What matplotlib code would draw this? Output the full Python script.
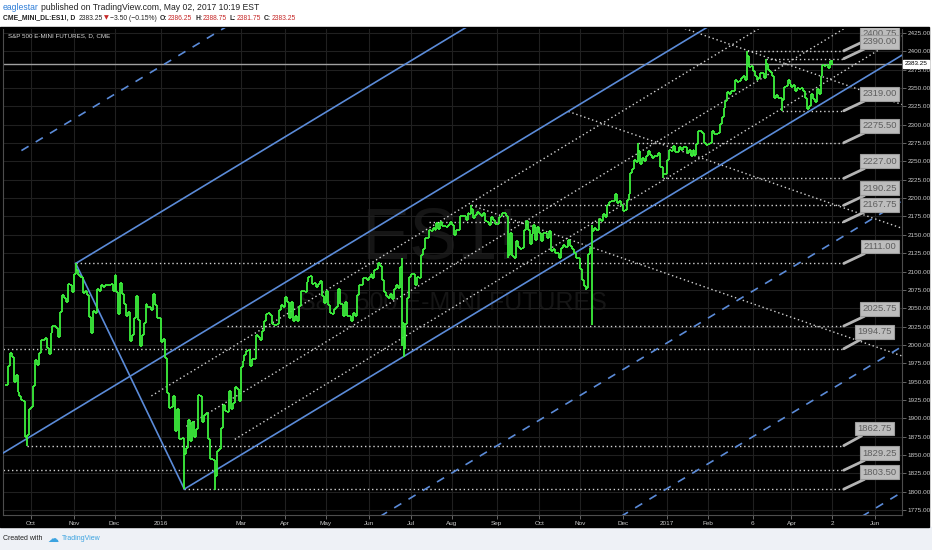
import numpy as np
import matplotlib
matplotlib.use("Agg")
import matplotlib.pyplot as plt
from matplotlib.collections import LineCollection
from matplotlib.patches import Rectangle
from matplotlib.transforms import blended_transform_factory

plt.rcParams["font.family"] = ["Liberation Sans", "DejaVu Sans"]

START = "2015-09-14"   # first bar, one value per weekday

# ES1! daily closes, one row per week (Mon..Fri)
closes = [
    1946, 1971, 1989, 1983, 1950,
    1959, 1936, 1931, 1925, 1924,
    1874, 1877, 1913, 1916, 1944,
    1980, 1972, 1989, 2007, 2007,
    2010, 1996, 1987, 2016, 2026,
    2026, 2023, 2011, 2045, 2068,
    2064, 2058, 2083, 2082, 2072,
    2097, 2102, 2095, 2092, 2092,
    2071, 2074, 2068, 2038, 2016,
    2046, 2044, 2076, 2074, 2082,
    2079, 2082, 2082, 2082, 2083,
    2073, 2095, 2072, 2042, 2084,
    2070, 2056, 2040, 2045, 2005,
    2014, 2036, 2066, 2034, 1998,
    2013, 2030, 2056, 2052, 2052,
    2048, 2070, 2055, 2036, 2036,
    # 2016
    2004, 2008, 1982, 1935, 1914,
    1915, 1930, 1882, 1913, 1872,
    1872, 1873, 1851, 1860, 1898,
    1869, 1895, 1874, 1885, 1932,
    1931, 1895, 1905, 1907, 1872,
    1845, 1844, 1843, 1821, 1856,
    1858, 1887, 1918, 1910, 1909,
    1937, 1913, 1921, 1943, 1940,
    1924, 1970, 1978, 1986, 1991,
    1993, 1971, 1981, 1981, 2014,
    2011, 2007, 2019, 2032, 2042,
    2043, 2041, 2028, 2027, 2027,
    2029, 2048, 2055, 2052, 2065,
    2058, 2037, 2058, 2033, 2040,
    2033, 2053, 2074, 2074, 2072,
    2086, 2092, 2094, 2083, 2084,
    2079, 2083, 2087, 2067, 2057,
    2073, 2055, 2043, 2042, 2049,
    2051, 2076, 2056, 2056, 2039,
    2058, 2039, 2040, 2033, 2044,
    2040, 2068, 2082, 2082, 2091,
    2091, 2089, 2092, 2097, 2091,
    2102, 2104, 2111, 2108, 2088,
    2072, 2067, 2064, 2069, 2063,
    2076, 2082, 2078, 2106, 2030,
    1994, 2029, 2064, 2092, 2096,
    2096, 2082, 2093, 2091, 2123,
    2130, 2145, 2145, 2156, 2155,
    2159, 2156, 2166, 2158, 2168,
    2162, 2162, 2160, 2163, 2167,
    2164, 2150, 2157, 2157, 2176,
    2175, 2176, 2170, 2180, 2178,
    2185, 2173, 2177, 2181, 2178,
    2176, 2180, 2169, 2167, 2163,
    2174, 2170, 2165, 2165, 2174,
    2176, 2180, 2180, 2175, 2122,
    2153, 2121, 2119, 2142, 2133,
    2131, 2132, 2156, 2169, 2157,
    2138, 2151, 2163, 2143, 2160,
    2153, 2142, 2152, 2153, 2145,
    2155, 2128, 2131, 2125, 2125,
    2119, 2132, 2136, 2133, 2133,
    2143, 2135, 2131, 2125, 2118,
    2118, 2103, 2089, 2080, 2077,
    2124, 2132, 2155, 2159, 2156,
    2156, 2172, 2169, 2179, 2174,
    2190, 2195, 2196, 2196, 2205,
    2194, 2196, 2191, 2183, 2184,
    2197, 2205, 2234, 2239, 2252,
    2249, 2264, 2246, 2255, 2251,
    2257, 2264, 2259, 2255, 2258,
    2258, 2262, 2243, 2243, 2233,
    # 2017
    2233, 2252, 2265, 2264, 2271,
    2263, 2263, 2269, 2265, 2269,
    2269, 2262, 2266, 2258, 2265,
    2259, 2274, 2292, 2291, 2289,
    2275, 2273, 2274, 2275, 2291,
    2287, 2287, 2289, 2301, 2310,
    2323, 2333, 2344, 2342, 2346,
    2346, 2361, 2358, 2359, 2363,
    2366, 2361, 2393, 2379, 2380,
    2373, 2366, 2361, 2363, 2371,
    2371, 2363, 2383, 2375, 2372,
    2366, 2336, 2341, 2337, 2336,
    2334, 2351, 2353, 2361, 2355,
    2352, 2354, 2346, 2350, 2348,
    2350, 2346, 2337, 2322, 2325,
    2342, 2335, 2331, 2348, 2342,
    2367, 2381, 2380, 2382, 2377,
    2386.75, 2383.25,
]

# intraday extremes that stick out of the close-to-close range
nan = np.nan
spike_dates = ["2015-09-29", "2015-11-03", "2016-01-20", "2016-02-11", "2016-06-24",
               "2016-06-27", "2016-08-15", "2016-09-09", "2016-11-04", "2016-11-09",
               "2016-12-13", "2016-12-30", "2017-03-01", "2017-03-15", "2017-03-27",
               "2017-05-02"]
spike_highs = [nan, 2111.0, nan, nan, 2118, nan, 2190.25, nan, nan, 2163,
               2275.5, nan, 2400.75, 2390.0, nan, 2388.75]
spike_lows = [1862.75, nan, 1803.5, 1802.5, 1999, 1983, nan, 2118, 2075, 2027.5,
              nan, 2227, nan, nan, 2319, 2381.75]

last_price = 2383.25

# Andrews pitchfork pivots
pf_dates = ["2015-08-24", "2015-11-03", "2016-01-20"]
pf_prices = [1831.0, 2111.0, 1803.5]
pf_solid = [-1, 0, 1]
pf_dashed = [2, -2, -3, -4]

# dotted trend lines: start point, slope in points per bar
up_starts = [("2015-12-28", 1930.5), ("2016-01-21", 1889.0), ("2016-02-25", 1871.3)]
up_slope = 1.598
down_starts = [("2016-08-15", 2190.25), ("2016-10-24", 2318.0), ("2017-01-04", 2438.5)]
down_slope = -0.925

# horizontal price levels with callouts
level_prices = [2400.75, 2390.00, 2319.00, 2275.50, 2227.00, 2190.25, 2167.75,
                2111.00, 2025.75, 1994.75, 1862.75, 1829.25, 1803.50]
level_starts = ["2017-03-01", "2017-03-15", "2017-03-27", "2016-12-13", "2016-12-30",
                "2016-08-15", "2016-07-14", "2015-11-03", "2016-02-19", "2015-09-01",
                "2015-09-29", "2015-08-24", "2016-01-20"]
level_end = "2017-05-10"

tick_dates = ["2015-10-01", "2015-11-02", "2015-12-01", "2016-01-04", "2016-03-01",
              "2016-04-01", "2016-05-02", "2016-06-01", "2016-07-01", "2016-08-01",
              "2016-09-01", "2016-10-03", "2016-11-01", "2016-12-01", "2017-01-03",
              "2017-02-01", "2017-03-06", "2017-04-03", "2017-05-02", "2017-06-01"]
tick_labels = ["Oct", "Nov", "Dec", "2016", "Mar", "Apr", "May", "Jun", "Jul", "Aug",
               "Sep", "Oct", "Nov", "Dec", "2017", "Feb", "6", "Apr", "2", "Jun"]


def bidx(d):
    return int(np.busday_count(START, d))


W, H = 932, 550
XMIN, XMAX = -1.5, 462.0
YMIN, YMAX = 1768.2, 2431.8

fig = plt.figure(figsize=(W / 100, H / 100), dpi=100)
fig.patch.set_facecolor("white")
fig.patches.append(Rectangle((0, 0), 1, 23 / H, transform=fig.transFigure,
                             color="#eef1f6", zorder=-2))
fig.patches.append(Rectangle((0, 23 / H), 929 / W, 500 / H, transform=fig.transFigure,
                             color="black", zorder=-1))

ax = fig.add_axes([3 / W, 35 / H, 899 / W, 487 / H])
ax.set_facecolor("black")
ax.set_xlim(XMIN, XMAX)
ax.set_ylim(YMIN, YMAX)

# axes, ticks, grid
yt = np.arange(1775, 2426, 25)
ax.yaxis.tick_right()
ax.set_yticks(yt)
ax.set_yticklabels([f"{v:.2f}" for v in yt])
ax.set_xticks([bidx(d) for d in tick_dates])
ax.set_xticklabels(tick_labels)
ax.tick_params(axis="both", colors="#777777", labelcolor="#c8c8c8",
               length=3, width=0.6)
ax.tick_params(axis="y", pad=1.2, labelsize=4.6)
ax.tick_params(axis="x", pad=1.5, labelsize=4.6)
ax.grid(True, color="#202020", lw=0.8)
ax.set_axisbelow(True)
for side, sp in ax.spines.items():
    sp.set_color("#4d4d4d" if side != "top" else "black")
    sp.set_linewidth(0.8)

# watermark
ax.text(0.485, 0.565, "ES1!", transform=ax.transAxes, fontsize=52, color="#151515",
        ha="center", va="center", zorder=0.5)
ax.text(0.5, 0.435, "S&P 500 E-MINI FUTURES", transform=ax.transAxes, fontsize=18,
        color="#151515", ha="center", va="center", zorder=0.5)

# current price line
ax.axhline(last_price, color="#a0a0a0", lw=1.0, zorder=2)

dot = dict(color="#d2d2d2", lw=1.0, ls=(0, (1, 2)), zorder=2)

# horizontal levels
x_end = bidx(level_end)
for p, d in zip(level_prices, level_starts):
    ax.plot([bidx(d), x_end], [p, p], **dot)

# dotted rising / falling lines
for d, p in up_starts:
    x0 = bidx(d)
    ax.plot([x0, XMAX], [p, p + up_slope * (XMAX - x0)], **dot)
for d, p in down_starts:
    x0 = bidx(d)
    ax.plot([x0, XMAX], [p, p + down_slope * (XMAX - x0)], **dot)

# pitchfork
blue = "#5b8bd8"
(x0, x1, x2) = [bidx(d) for d in pf_dates]
(p0, p1, p2) = pf_prices
mx, mp = (x1 + x2) / 2, (p1 + p2) / 2
slope = (mp - p0) / (mx - x0)
spacing = p1 - (p0 + slope * (x1 - x0))
s12 = (p2 - p1) / (x2 - x1)


def pf_line(k):
    if k == 0:
        xs = x0
    else:
        xs = (p1 - s12 * x1 - p0 + slope * x0 - k * spacing) / (slope - s12)
    ys = p0 + slope * (xs - x0) + k * spacing
    return [xs, XMAX], [ys, ys + slope * (XMAX - xs)]


ax.plot([x1, x2], [p1, p2], color=blue, lw=1.2, zorder=3)
for k in pf_solid:
    xs, ys = pf_line(k)
    ax.plot(xs, ys, color=blue, lw=1.2, zorder=3)
for k in pf_dashed:
    xs, ys = pf_line(k)
    ax.plot(xs, ys, color=blue, lw=1.2, ls=(0, (5, 5)), zorder=3)

# OHLC bars
c = np.asarray(closes, dtype=float)
xb = np.arange(len(c))
o = np.r_[c[0], c[:-1]]
hi = np.maximum(o, c)
lo = np.minimum(o, c)
for d, h, l in zip(spike_dates, spike_highs, spike_lows):
    i = bidx(d)
    if not np.isnan(h):
        hi[i] = max(hi[i], h)
    if not np.isnan(l):
        lo[i] = min(lo[i], l)
segs = []
for i in range(len(c)):
    segs.append([(xb[i], lo[i]), (xb[i], hi[i])])
    segs.append([(xb[i] - 0.5, o[i]), (xb[i], o[i])])
    segs.append([(xb[i], c[i]), (xb[i] + 0.5, c[i])])
ax.add_collection(LineCollection(segs, colors="#3cf03c", linewidths=1.3, zorder=4))

# callouts
for p in level_prices:
    dx = 31 if p in (1994.75, 1862.75) else 36
    ax.annotate(f"{p:.2f}", xy=(x_end, p), xytext=(dx, 17), textcoords="offset pixels",
                ha="center", va="center", fontsize=6.8, color="#5e5e5e",
                bbox=dict(boxstyle="square,pad=0.25", fc="#bdbdbd", ec="#9c9c9c", lw=0.8),
                arrowprops=dict(arrowstyle="-", color="#b4b4b4", lw=2.0,
                                shrinkA=0, shrinkB=0),
                clip_on=True, zorder=6)

# last price tag
tr = blended_transform_factory(ax.transAxes, ax.transData)
ax.text(1.003, last_price, f"{last_price:.2f}", transform=tr, fontsize=4.6, color="black",
        ha="left", va="center", clip_on=False, zorder=7,
        bbox=dict(boxstyle="square,pad=0.25", fc="white", ec="white"))

# chart title
ax.text(5 / 899, 1 - 8 / 487, "S&P 500 E-MINI FUTURES, D, CME", transform=ax.transAxes,
        fontsize=4.5, color="#d8d8d8", ha="left", va="center", zorder=7)

# header and footer, pieces laid out one after another
renderer = fig.canvas.get_renderer()


def text_run(xp, yp, parts, size):
    x = xp
    for s, gap, kw in parts:
        kw = dict(kw)
        kw.setdefault("fontsize", size)
        kw.setdefault("color", "#222222")
        t = fig.text(x / W, 1 - yp / H, s, ha="left", va="center", **kw)
        x += t.get_window_extent(renderer).width + gap


red = "#c62828"
bold = {"fontweight": "bold"}
text_run(3, 7, [("eaglestar", 2, {"color": "#2f7ed8"}),
                ("published on TradingView.com, May 02, 2017 10:19 EST", 0, {})], 6.2)
text_run(3, 18, [("CME_MINI_DL:ES1!, D", 3, bold), ("2383.25", 1.5, {}),
                 ("\u25bc", 1.5, {"color": red, "family": "DejaVu Sans", "fontsize": 4.5}),
                 ("\u22123.50 (\u22120.15%)", 3, {}),
                 ("O:", 0.5, bold), ("2386.25", 3, {"color": red}),
                 ("H:", 0.5, bold), ("2388.75", 3, {"color": red}),
                 ("L:", 0.5, bold), ("2381.75", 3, {"color": red}),
                 ("C:", 0.5, bold), ("2383.25", 0, {"color": red})], 4.9)
text_run(3, 539, [("Created with", 5, {}),
                  ("\u2601", 3, {"color": "#3ba3e0", "family": "DejaVu Sans", "fontsize": 8}),
                  ("TradingView", 0, {"color": "#3ba3e0"})], 5.0)

fig.savefig("out.png", dpi=100, facecolor=fig.get_facecolor())
